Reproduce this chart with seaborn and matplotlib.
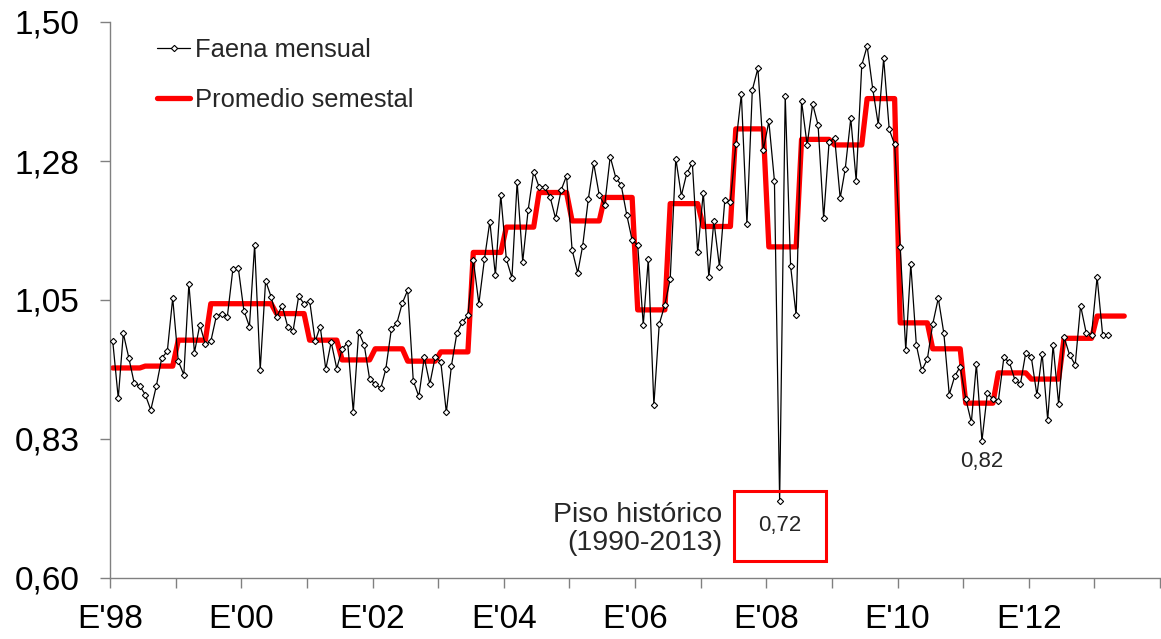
import numpy as np
import pandas as pd
import seaborn as sns
import matplotlib.pyplot as plt
import matplotlib.dates as mdates
from matplotlib.lines import Line2D

# monthly index, Jan-1998 .. Mar-2013
faena_mensual = [
    0.984, 0.891, 0.996, 0.956, 0.915, 0.911, 0.897, 0.872, 0.911, 0.956, 0.967, 1.053,  # 1998
    0.951, 0.929, 1.076, 0.965, 1.010, 0.978, 0.983, 1.024, 1.028, 1.023, 1.100, 1.102,  # 1999
    1.033, 1.007, 1.139, 0.937, 1.081, 1.055, 1.022, 1.041, 1.007, 1.000, 1.056, 1.044,  # 2000
    1.049, 0.983, 1.007, 0.938, 0.982, 0.939, 0.971, 0.981, 0.869, 0.998, 0.977, 0.922,  # 2001
    0.914, 0.907, 0.938, 1.003, 1.012, 1.045, 1.066, 0.919, 0.894, 0.957, 0.914, 0.958,  # 2002
    0.950, 0.868, 0.943, 0.997, 1.014, 1.025, 1.115, 1.044, 1.116, 1.177, 1.090, 1.220,  # 2003
    1.116, 1.086, 1.241, 1.112, 1.195, 1.258, 1.233, 1.233, 1.216, 1.182, 1.228, 1.251,  # 2004
    1.131, 1.094, 1.138, 1.213, 1.271, 1.220, 1.203, 1.282, 1.248, 1.236, 1.188, 1.147,  # 2005
    1.139, 1.010, 1.116, 0.880, 1.011, 1.042, 1.084, 1.279, 1.219, 1.255, 1.272, 1.127,  # 2006
    1.224, 1.087, 1.178, 1.104, 1.212, 1.209, 1.302, 1.383, 1.173, 1.390, 1.425, 1.293,  # 2007
    1.339, 1.243, 0.725, 1.381, 1.105, 1.025, 1.372, 1.301, 1.367, 1.333, 1.182, 1.305,  # 2008
    1.313, 1.215, 1.262, 1.344, 1.243, 1.430, 1.461, 1.392, 1.334, 1.441, 1.326, 1.302,  # 2009
    1.135, 0.969, 1.108, 0.977, 0.936, 0.954, 1.011, 1.053, 0.996, 0.897, 0.927, 0.942,  # 2010
    0.890, 0.852, 0.946, 0.822, 0.899, 0.890, 0.886, 0.957, 0.949, 0.921, 0.914, 0.965,  # 2011
    0.957, 0.896, 0.963, 0.856, 0.977, 0.881, 0.990, 0.961, 0.945, 1.041, 0.997, 0.994,  # 2012
    1.087, 0.993, 0.993,                                                                  # 2013
]

# semester averages, 1998-H1 .. 2013-H1
promedio_semestral = [
    0.940, 0.943, 0.985, 1.044, 1.044, 1.028, 0.985, 0.953,
    0.971, 0.951, 0.966, 1.127, 1.168, 1.224, 1.178, 1.216,
    1.034, 1.206, 1.169, 1.327, 1.136, 1.310, 1.301, 1.376,
    1.013, 0.971, 0.883, 0.932, 0.922, 0.988, 1.024,
]

y_ticks = [0.60, 0.825, 1.05, 1.275, 1.50]
y_labels = ["0,60", "0,83", "1,05", "1,28", "1,50"]
x_label_years = [1998, 2000, 2002, 2004, 2006, 2008, 2010, 2012]

# --- build frames ---
mid = pd.Timedelta(days=15)
df = pd.DataFrame({
    "fecha": pd.date_range("1998-01-01", periods=len(faena_mensual), freq="MS") + mid,
    "faena": faena_mensual,
})
prom = np.repeat(promedio_semestral, 6)
df_prom = pd.DataFrame({
    "fecha": pd.date_range("1998-01-01", periods=len(prom), freq="MS") + mid,
    "promedio": prom,
})

sns.set_theme(style="white")
plt.rcParams["font.family"] = ["Liberation Sans", "DejaVu Sans"]

fig = plt.figure(figsize=(11.61, 6.39), dpi=100)
ax = fig.add_axes([110 / 1161, 1 - 578 / 639, 1050 / 1161, 556 / 639])

sns.lineplot(data=df_prom, x="fecha", y="promedio", ax=ax, color="#ff0000",
             lw=3.8, zorder=2)
sns.lineplot(data=df, x="fecha", y="faena", ax=ax, color="black", lw=0.9,
             marker="D", markersize=3.2, markerfacecolor="white",
             markeredgecolor="black", markeredgewidth=0.8, zorder=3)

# axes
ax.set_xlim(pd.Timestamp("1998-01-01"), pd.Timestamp("2014-01-01"))
ax.set_ylim(0.60, 1.50)
ax.set_xticks([pd.Timestamp(f"{y}-01-01") for y in x_label_years])
ax.xaxis.set_minor_locator(mdates.YearLocator(1))
ax.xaxis.set_major_formatter(mdates.DateFormatter("E'%y"))
ax.set_yticks(y_ticks)
ax.set_yticklabels(y_labels)
ax.set_xlabel("")
ax.set_ylabel("")

for side in ["top", "right"]:
    ax.spines[side].set_visible(False)
for side in ["left", "bottom"]:
    ax.spines[side].set_color("#808080")
    ax.spines[side].set_linewidth(1.0)

ax.tick_params(axis="both", which="both", direction="out", colors="#808080",
               length=7, width=1.0, labelcolor="black", labelsize=24,
               bottom=True, left=True)
ax.tick_params(axis="x", which="both", pad=12)
ax.tick_params(axis="y", pad=15)

# annotations
i_min = int(np.argmin(faena_mensual))
ax.annotate("0,72", xy=(df["fecha"][i_min], faena_mensual[i_min]),
            xytext=(0, -18), textcoords="offset points", ha="center", va="center",
            fontsize=16,
            bbox=dict(boxstyle="square,pad=1.1", fc="none", ec="#ff0000", lw=2.2))
ax.annotate("Piso histórico\n(1990-2013)", xy=(df["fecha"][i_min], faena_mensual[i_min]),
            xytext=(-41, -20), textcoords="offset points", ha="right", va="center",
            fontsize=20.5, linespacing=1.1)

i_82 = df.index[df["fecha"] > pd.Timestamp("2010-06-01")][0]
i_82 = i_82 + int(np.argmin(faena_mensual[i_82:]))
ax.annotate("0,82", xy=(df["fecha"][i_82], faena_mensual[i_82]),
            xytext=(0, -15), textcoords="offset points", ha="center", va="center",
            fontsize=16)

# legend
handles = [
    Line2D([], [], color="black", lw=0.9, marker="D", markersize=3.2,
           markerfacecolor="white", markeredgecolor="black", markeredgewidth=0.8),
    Line2D([], [], color="#ff0000", lw=3.8),
]
ax.legend(handles, ["Faena mensual", "Promedio semestal"], loc="upper left",
          bbox_to_anchor=(0.0448, 0.972), frameon=False, fontsize=18.4,
          handlelength=1.3, handletextpad=0.2, labelspacing=1.05,
          borderpad=0, borderaxespad=0, numpoints=1)

fig.savefig("out.png", dpi=100)
